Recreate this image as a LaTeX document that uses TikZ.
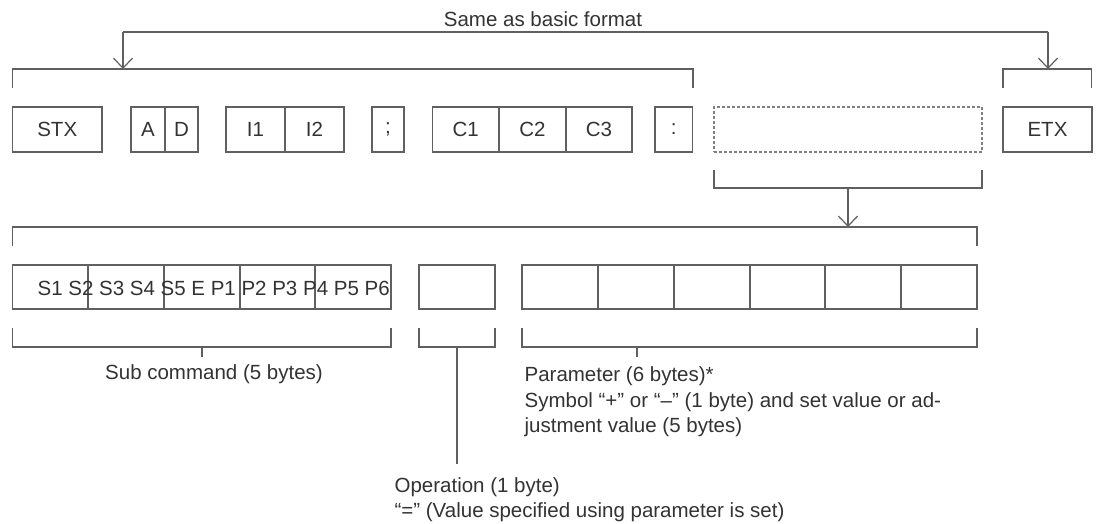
\documentclass[tikz,border=0pt]{standalone}
\usepackage{fontspec}
\setmainfont{Liberation Sans}
\usetikzlibrary{arrows.meta}
\definecolor{ln}{HTML}{606060}
\definecolor{tx}{HTML}{333333}
\newcommand\myfs{\fontsize{20.5}{25}\selectfont}
\begin{document}
\begin{tikzpicture}[x=1pt,y=-1pt,
  line width=1.2pt,
  box/.style={draw=ln, line width=1.2pt, inner sep=0pt, text=tx, font=\myfs},
  rowone/.style={box, minimum height=45pt},
  rowtwo/.style={box, minimum height=44pt},
  dbox/.style={draw=ln!80, line width=1.2pt, dash pattern=on 3pt off 2pt, inner sep=0pt, minimum height=45pt},
  lbl/.style={text=tx, font=\myfs, inner sep=0pt, anchor=base},
  lblw/.style={text=tx, font=\myfs, inner sep=0pt, anchor=base west},
  brk/.style={draw=ln, line width=1.2pt},
  arr/.style={draw=ln, line width=1.2pt, -{Straight Barb[length=10pt,width=19pt]}}
]
\useasboundingbox[fill=white] (0,0) rectangle (1101,523);

% ---------- row 1 ----------
\node[rowone, minimum width=89.5pt] (stx) at (57.25,129.5) {STX};
\node[rowone, minimum width=34pt] (a) at (148,129.5) {A};
\node[rowone, minimum width=33pt] (d) at (181.5,129.5) {D};
\node[rowone, minimum width=59pt] (i1) at (255.5,129.5) {I1};
\node[rowone, minimum width=59pt] (i2) at (314.5,129.5) {I2};
\node[rowone, minimum width=32pt] (semi) at (388,129.5) {;};
\node[rowone, minimum width=66.5pt] (c1) at (465.75,129.5) {C1};
\node[rowone, minimum width=67pt] (c2) at (532.5,129.5) {C2};
\node[rowone, minimum width=66pt] (c3) at (599,129.5) {C3};
\node[rowone, minimum width=37.5pt] (colon) at (673.75,129.5) {:};
\node[dbox, minimum width=268pt] (data) at (848,129.5) {};
\node[rowone, minimum width=89pt] (etx) at (1047.5,129.5) {ETX};

% ---------- title and top arrows ----------
\node[lbl] (title) at (543,26) {Same as basic format};
\coordinate (tl) at (123,32);
\coordinate (tr) at (1048,32);
\coordinate (b1a) at (123,69);
\coordinate (b2a) at (1048,69);
\draw[brk] (tl) -- (tr);
\draw[arr] (tl) -- (b1a);
\draw[arr] (tr) -- (b2a);

% brackets above row 1
\draw[brk] (12.5,88) -- (12.5,69) -- (693,69) -- (693,88);
\draw[brk] (1003,88) -- (1003,69) -- (1091.5,69) -- (1091.5,88);

% bracket below data box
\draw[brk] (714,170) -- (714,188) -- (982,188) -- (982,170);
\coordinate (ds) at (848,188);
\coordinate (r2a) at (848,227);
\draw[arr] (ds) -- (r2a);

% bracket above row 2
\draw[brk] (12.5,246) -- (12.5,227) -- (977,227) -- (977,246);

% ---------- row 2 ----------
\node[rowtwo, minimum width=75.5pt] (s1) at (50.25,287) {};
\node[rowtwo, minimum width=76pt] (s2) at (126,287) {};
\node[rowtwo, minimum width=76pt] (s3) at (202,287) {};
\node[rowtwo, minimum width=75pt] (s4) at (277.5,287) {};
\node[rowtwo, minimum width=76pt] (s5) at (353,287) {};
\node[lblw, anchor=west] (subtxt) at (37,288.5) {S1 S2 S3 S4 S5 E P1 P2 P3 P4 P5 P6};
\node[rowtwo, minimum width=76pt] (op) at (457,287) {};
\node[rowtwo, minimum width=76pt] (p1) at (560,287) {};
\node[rowtwo, minimum width=76pt] (p2) at (636,287) {};
\node[rowtwo, minimum width=76pt] (p3) at (712,287) {};
\node[rowtwo, minimum width=75pt] (p4) at (787.5,287) {};
\node[rowtwo, minimum width=76pt] (p5) at (863,287) {};
\node[rowtwo, minimum width=76pt] (p6) at (939,287) {};

% ---------- lower brackets ----------
\draw[brk] (12.5,328) -- (12.5,347) -- (391,347) -- (391,328);
\draw[brk] (202,347) -- (202,357);
\draw[brk] (419,328) -- (419,347) -- (495,347) -- (495,328);
\draw[brk] (457,347) -- (457,464);
\draw[brk] (522,328) -- (522,347) -- (977,347) -- (977,328);
\draw[brk] (637,347) -- (637,357);

% ---------- labels ----------
\node[lbl] (sublbl) at (214,379) {Sub command (5 bytes)};
\node[lblw] (par1) at (524,381.5) {Parameter (6 bytes)*};
\node[lblw] (par2) at (524,407) {Symbol “+” or “–” (1 byte) and set value or ad-};
\node[lblw] (par3) at (524,432.5) {justment value (5 bytes)};
\node[lblw] (op1) at (394,492) {Operation (1 byte)};
\node[lblw] (op2) at (394,517) {“=\symbol{34} (Value specified using parameter is set)};
\end{tikzpicture}
\end{document}
